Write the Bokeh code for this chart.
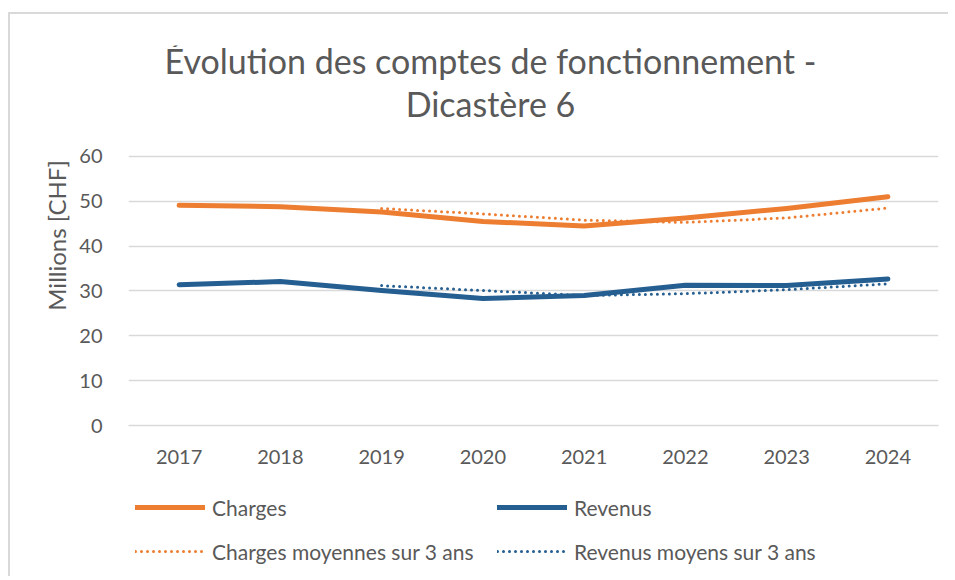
from bokeh.plotting import figure
from bokeh.layouts import column
from bokeh.models import Range1d, FactorRange, Legend, LegendItem, Label, FixedTicker
from bokeh.embed import file_html
from bokeh.resources import INLINE

years = ["2017", "2018", "2019", "2020", "2021", "2022", "2023", "2024"]
charges = [49.1, 48.8, 47.6, 45.5, 44.5, 46.3, 48.4, 51.0]
revenus = [31.4, 32.1, 30.1, 28.3, 29.0, 31.3, 31.2, 32.7]
avg_years = ["2019", "2020", "2021", "2022", "2023", "2024"]
charges_avg = [48.4, 47.2, 45.8, 45.3, 46.3, 48.5]
revenus_avg = [31.2, 30.1, 29.0, 29.4, 30.3, 31.6]
y_ticks = [0, 10, 20, 30, 40, 50, 60]
title_lines = ["Évolution des comptes de fonctionnement -", "Dicastère 6"]
series_names = ["Charges", "Revenus", "Charges moyennes sur 3 ans", "Revenus moyens sur 3 ans"]

FONT = "Lato"
GREY = "#595959"
ORANGE = "#ED7D31"
BLUE = "#255E91"

series = [(years, charges, ORANGE, 5, "solid"),
          (years, revenus, BLUE, 5, "solid"),
          (avg_years, charges_avg, ORANGE, 3, "0 6"),
          (avg_years, revenus_avg, BLUE, 3, "0 6")]

# y range extended above 60 to leave room for the title inside the frame
p = figure(frame_width=810, frame_height=380, x_range=FactorRange(*years), y_range=Range1d(0, 84.75),
           output_backend="svg", toolbar_location=None,
           min_border_left=118, min_border_right=10, min_border_top=31, min_border_bottom=51)
p.outline_line_color = None
p.background_fill_color = "white"
p.border_fill_color = "white"

for xs, ys, col, w, dash in series:
    p.line(xs, ys, line_color=col, line_width=w, line_dash=dash,
           line_cap="round", line_join="round")

p.xgrid.grid_line_color = None
p.ygrid.grid_line_color = "#d9d9d9"
p.ygrid.grid_line_width = 1.5
p.yaxis.ticker = FixedTicker(ticks=y_ticks)
p.yaxis.axis_line_color = None
p.yaxis.major_tick_line_color = None
p.yaxis.minor_tick_line_color = None
p.yaxis.major_label_standoff = 20
p.yaxis.axis_label = "Millions [CHF]"
p.yaxis.axis_label_text_font = FONT
p.yaxis.axis_label_text_font_style = "normal"
p.yaxis.axis_label_text_font_size = "24px"
p.yaxis.axis_label_text_color = GREY
p.yaxis.axis_label_standoff = 5
p.xaxis.axis_line_color = "#d9d9d9"
p.xaxis.axis_line_width = 1.5
p.xaxis.major_tick_line_color = None
p.xaxis.minor_tick_line_color = None
p.xaxis.major_label_standoff = 18
for ax in (p.xaxis, p.yaxis):
    ax.major_label_text_font = FONT
    ax.major_label_text_font_size = "20px"
    ax.major_label_text_color = GREY

for txt, yy in zip(title_lines, (81.4, 71.8)):
    p.add_layout(Label(x=3.575, y=yy, text=txt,
                       text_font=FONT, text_font_size="34px", text_color=GREY,
                       text_align="center", text_baseline="middle"))

# legend in its own strip below the chart (series redrawn out of view, only the legend shows)
lg = figure(width=938, height=100, x_range=FactorRange(*years), y_range=Range1d(-2, -1),
            output_backend="svg", toolbar_location=None,
            x_axis_location=None, y_axis_location=None, min_border=0)
lg.outline_line_color = None
lg.grid.visible = False
lg.background_fill_color = "white"
lg.border_fill_color = "white"
items = []
for name, (xs, ys, col, w, dash) in zip(series_names, series):
    r = lg.line(xs, ys, line_color=col, line_width=w, line_dash=dash, line_cap="round")
    items.append(LegendItem(label=name, renderers=[r]))

legend = Legend(items=items, ncols=2, orientation="horizontal", location=(7, 5))
legend.label_text_font = FONT
legend.label_text_font_size = "21px"
legend.label_text_color = GREY
legend.glyph_width = 70
legend.glyph_height = 40
legend.label_height = 40
legend.label_width = 281
legend.label_standoff = 7
legend.spacing = 4
legend.padding = 0
legend.margin = 0
legend.border_line_color = None
legend.background_fill_alpha = 0
lg.add_layout(legend, "center")

layout = column(p, lg, spacing=0,
                styles={"margin": "12px 0 0 8px", "border-top": "2px solid #d9d9d9",
                        "border-left": "2px solid #d9d9d9", "border-right": "0px none",
                        "border-bottom": "0px none", "overflow": "hidden"})

open("out.html", "w").write(file_html(layout, INLINE))
